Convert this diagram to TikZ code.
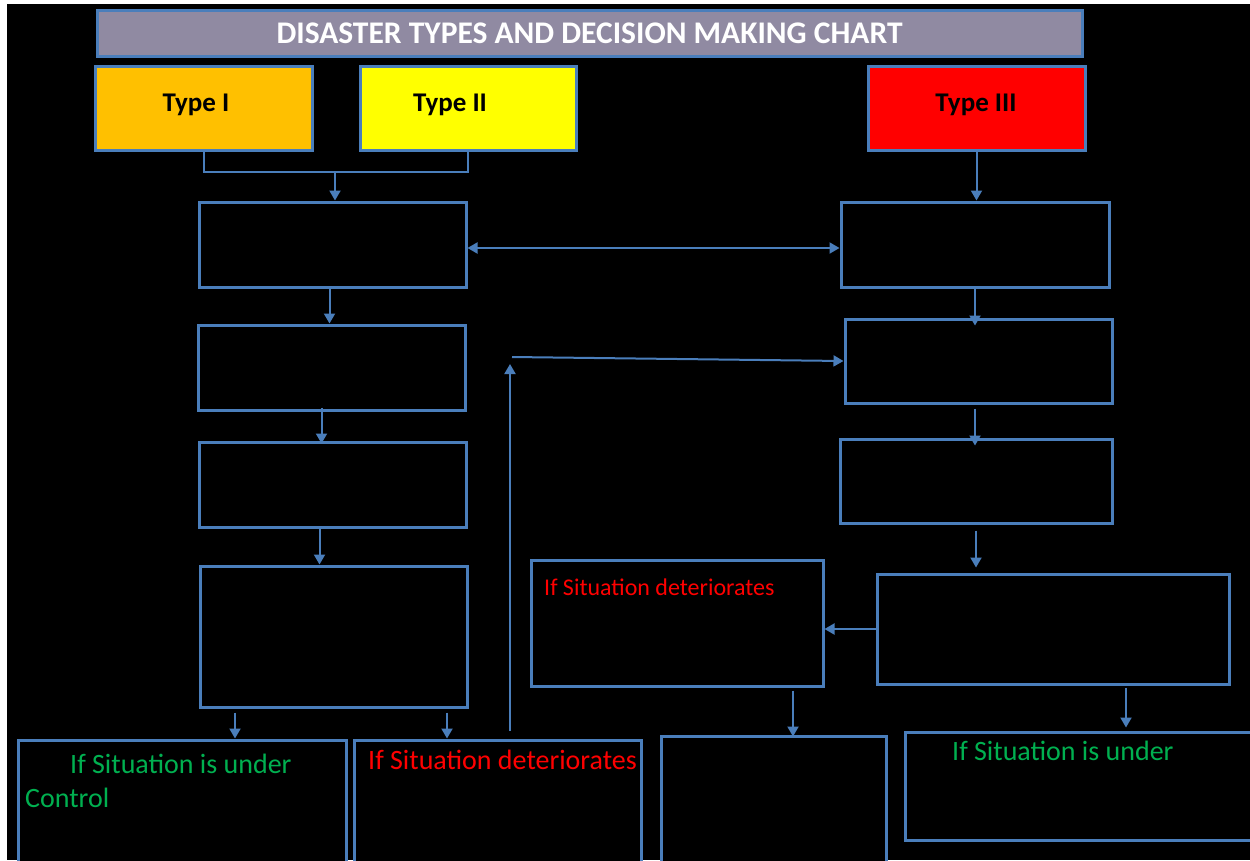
\documentclass[tikz,border=0pt]{standalone}
\usepackage{fontspec}
\setmainfont{Carlito}
\usetikzlibrary{arrows.meta}
\definecolor{bline}{RGB}{74,126,187}
\definecolor{titlefill}{RGB}{144,138,162}
\definecolor{typeone}{RGB}{255,192,0}
\definecolor{typetwo}{RGB}{255,255,0}
\definecolor{typethree}{RGB}{255,0,0}
\definecolor{okgreen}{RGB}{0,176,80}
\definecolor{badred}{RGB}{255,0,0}
\tikzset{
  box/.style={draw=bline, line width=3pt, inner sep=0pt, fill=black},
  conn/.style={draw=bline, line width=2pt},
  arr/.style={conn, -{Triangle[length=10pt,width=11pt]}},
  darr/.style={conn, {Triangle[length=10pt,width=11pt]}-{Triangle[length=10pt,width=11pt]}},
  typelabel/.style={font=\fontsize{27}{30}\selectfont\bfseries, text=black, inner sep=0pt},
  greentext/.style={font=\fontsize{28}{32}\selectfont, text=okgreen, inner sep=0pt, anchor=west},
  redtext/.style={font=\fontsize{28}{32}\selectfont, text=badred, inner sep=0pt, anchor=west},
}
\begin{document}
\begin{tikzpicture}[x=1pt,y=-1pt]
\useasboundingbox (0,0) rectangle (1250,860);
\fill[white] (0,0) rectangle (1250,860);
\fill[black] (7,4) rectangle (1250,860);
\begin{scope}
\clip (7,4) rectangle (1250,860);
% title
\node[box, fill=titlefill, minimum width=985pt, minimum height=46pt, text=white,
      font=\fontsize{31.5}{34}\selectfont\bfseries] (title) at (589.5,33) {DISASTER TYPES AND DECISION MAKING CHART};
% type boxes
\node[box, fill=typeone, minimum width=217pt, minimum height=84pt] (t1) at (203.5,108) {};
\node[box, fill=typetwo, minimum width=216pt, minimum height=84pt] (t2) at (468,108) {};
\node[box, fill=typethree, minimum width=217pt, minimum height=84pt] (t3) at (976.5,108) {};
\node[typelabel] (t1l) at (196,105) {Type I};
\node[typelabel] (t2l) at (450,105) {Type II};
\node[typelabel] (t3l) at (976,105) {Type III};
% left column
\node[box, minimum width=267pt, minimum height=85pt] (L1) at (332.5,244.5) {};
\node[box, minimum width=267pt, minimum height=85pt] (L2) at (331.5,367.5) {};
\node[box, minimum width=267pt, minimum height=85pt] (L3) at (332.5,484.5) {};
\node[box, minimum width=267pt, minimum height=141pt] (L4) at (333.5,636.5) {};
% right column
\node[box, minimum width=268pt, minimum height=85pt] (R1) at (975,244.5) {};
\node[box, minimum width=267pt, minimum height=84pt] (R2) at (978.5,361) {};
\node[box, minimum width=272pt, minimum height=84pt] (R3) at (976,481) {};
\node[box, minimum width=352pt, minimum height=110pt] (R4) at (1053,629) {};
% middle / bottom
\node[box, minimum width=292pt, minimum height=126pt] (M1) at (677,623) {};
\node[box, minimum width=225pt, minimum height=164pt] (M2) at (773.5,818) {};
\node[box, minimum width=328pt, minimum height=160pt] (BL1) at (182,820) {};
\node[box, minimum width=287pt, minimum height=160pt] (BL2) at (497.5,820) {};
\node[box, minimum width=385pt, minimum height=108pt] (BR) at (1097.5,786) {};
% texts
\node[greentext] (bl1a) at (70,764) {If Situation is under};
\node[greentext] (bl1b) at (25,798) {Control};
\node[redtext] (bl2a) at (368,760) {If Situation deteriorates};
\node[redtext, font=\fontsize{24}{28}\selectfont] (m1a) at (544,587) {If Situation deteriorates};
\node[greentext] (bra) at (952,751) {If Situation is under};
% connectors
\coordinate (j) at (335,172);
\draw[conn] (t1.south) |- (j) -| (t2.south);
\draw[arr] (j) -- (j |- L1.north);
\draw[arr] (t3.south) -- (t3.south |- R1.north);
\draw[darr] ([yshift=-3.5pt]L1.east) -- ([yshift=-3.5pt]L1.east -| R1.west);
\draw[arr] ([xshift=-3pt]L1.south) -- ([xshift=-3pt]L1.south |- L2.north);
\draw[arr] ([xshift=-10pt,yshift=4pt]L2.south) -- ([xshift=-10pt,yshift=-3pt]L2.south |- L3.north);
\draw[arr] ([xshift=-13pt]L3.south) -- ([xshift=-13pt]L3.south |- L4.north);
\draw[arr] ([xshift=-98.5pt,yshift=-4pt]L4.south) -- ([xshift=-98.5pt]L4.south |- BL1.north);
\draw[arr] ([xshift=113.5pt,yshift=-4pt]L4.south) -- ([xshift=113.5pt]L4.south |- BL1.north);
\draw[arr] (R1.south) -- ([yshift=-8pt]R1.south |- R2.north);
\draw[arr] ([xshift=-3.5pt,yshift=-4pt]R2.south) -- ([xshift=-3.5pt,yshift=-8pt]R2.south |- R3.north);
\draw[arr] ([yshift=-6pt]R3.south) -- ([yshift=5pt]R3.south |- R4.north);
\coordinate (u0) at (510,731);
\coordinate (u1) at (510,364);
\draw[arr] (u0) -- (u1);
\coordinate (h0) at (512,357);
\draw[arr] (h0) -- (R2.west);
\draw[arr] (R4.west) -- (R4.west -| M1.east);
\draw[arr] ([xshift=116pt,yshift=-3pt]M1.south) -- ([xshift=116pt,yshift=-2pt]M1.south |- M2.north);
\draw[arr] ([xshift=73pt,yshift=-2pt]R4.south) -- ([xshift=73pt,yshift=3pt]R4.south |- BR.north);
\end{scope}
\end{tikzpicture}
\end{document}
